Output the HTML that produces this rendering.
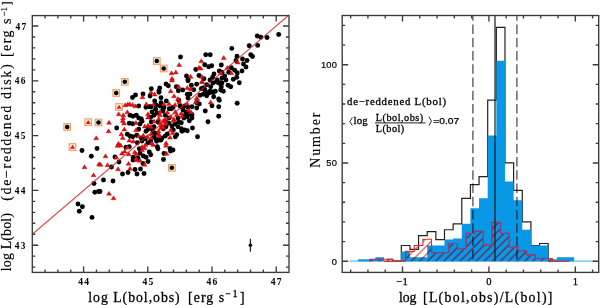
<!DOCTYPE html><html><head><meta charset="utf-8"><style>html,body{margin:0;padding:0;background:#fff;overflow:hidden}svg{display:block;will-change:transform}</style></head><body><svg width="600" height="305" viewBox="0 0 600 305"><rect width="600" height="305" fill="#fff"/><path d="M349.5 261.20H595" stroke="#5cbcf0" stroke-width="1.2"/><path d="M388 261.20 V259.24 H392.7 V261.20 H401.30V245.48 H409.94V249.41 H418.58V235.65 H427.22V231.72 H435.86V239.58 H444.50V229.76 H453.14V223.86 H461.78V198.32 H470.42V184.56 H479.06V176.70 H487.70V100.07 H496.34V27.36 H504.98V162.95 H513.62V190.46 H522.26V221.90 H530.90V245.48 H539.54V243.51 H548.18V261.20" fill="none" stroke="#222" stroke-width="1.2"/><path d="M358.10 261.20L358.10 259.24L366.74 259.24L366.74 259.24L375.38 259.24L375.38 257.27L384.02 257.27L384.02 261.20L392.66 261.20L392.66 261.20L401.30 261.20L401.30 251.38L409.94 251.38L409.94 257.27L418.58 257.27L418.58 257.27L427.22 257.27L427.22 245.48L435.86 245.48L435.86 245.48L444.50 245.48L444.50 239.58L453.14 239.58L453.14 238.60L461.78 238.60L461.78 223.86L470.42 223.86L470.42 208.14L479.06 208.14L479.06 198.32L487.70 198.32L487.70 135.44L496.34 135.44L496.34 60.77L504.98 60.77L504.98 181.62L513.62 181.62L513.62 200.28L522.26 200.28L522.26 229.76L530.90 229.76L530.90 245.48L539.54 245.48L539.54 245.48L548.18 245.48L548.18 259.24L556.82 259.24L556.82 257.27L565.46 257.27L565.46 257.27L574.10 257.27L574.10 261.20Z" fill="#0998e5"/><defs><pattern id="hr" patternUnits="userSpaceOnUse" x="0.3" y="0" width="8.1" height="8.1"><path d="M-1 1L1 -1M0 8.1L8.1 0M7.1 9.1L9.1 7.1" stroke="#d8302c" stroke-width="1.1"/></pattern><pattern id="hb" patternUnits="userSpaceOnUse" x="0.3" y="0" width="8.1" height="8.1"><path d="M-1 1L1 -1M0 8.1L8.1 0M7.1 9.1L9.1 7.1" stroke="#23407f" stroke-width="1.2"/></pattern><clipPath id="cred"><path d="M370 261.20 V259.24 H392.7 V261.20 H405.60V251.38 H414.24V245.48 H422.88V239.19 H431.52V252.55 H440.16V252.55 H448.80V243.51 H457.44V248.62 H466.08V233.30 H474.72V231.33 H483.36V244.89 H492.00V222.29 H500.64V233.30 H509.28V247.05 H517.92V250.59 H526.56V254.91 H535.20V258.45 H543.84V258.45 H552.48V261.20 H569 V261.20 Z"/></clipPath><clipPath id="cblue"><path d="M358.10 261.20L358.10 259.24L366.74 259.24L366.74 259.24L375.38 259.24L375.38 257.27L384.02 257.27L384.02 261.20L392.66 261.20L392.66 261.20L401.30 261.20L401.30 251.38L409.94 251.38L409.94 257.27L418.58 257.27L418.58 257.27L427.22 257.27L427.22 245.48L435.86 245.48L435.86 245.48L444.50 245.48L444.50 239.58L453.14 239.58L453.14 238.60L461.78 238.60L461.78 223.86L470.42 223.86L470.42 208.14L479.06 208.14L479.06 198.32L487.70 198.32L487.70 135.44L496.34 135.44L496.34 60.77L504.98 60.77L504.98 181.62L513.62 181.62L513.62 200.28L522.26 200.28L522.26 229.76L530.90 229.76L530.90 245.48L539.54 245.48L539.54 245.48L548.18 245.48L548.18 259.24L556.82 259.24L556.82 257.27L565.46 257.27L565.46 257.27L574.10 257.27L574.10 261.20Z"/></clipPath></defs><path d="M370 261.20 V259.24 H392.7 V261.20 H405.60V251.38 H414.24V245.48 H422.88V239.19 H431.52V252.55 H440.16V252.55 H448.80V243.51 H457.44V248.62 H466.08V233.30 H474.72V231.33 H483.36V244.89 H492.00V222.29 H500.64V233.30 H509.28V247.05 H517.92V250.59 H526.56V254.91 H535.20V258.45 H543.84V258.45 H552.48V261.20 H569 V261.20 Z" fill="url(#hr)"/><g clip-path="url(#cblue)"><rect x="340" y="150" width="260" height="115" fill="url(#hb)" clip-path="url(#cred)"/></g><path d="M370 261.50 V259.24 H392.7 V261.20 H405.60V251.38 H414.24V245.48 H422.88V239.19 H431.52V252.55 H440.16V252.55 H448.80V243.51 H457.44V248.62 H466.08V233.30 H474.72V231.33 H483.36V244.89 H492.00V222.29 H500.64V233.30 H509.28V247.05 H517.92V250.59 H526.56V254.91 H535.20V258.45 H543.84V258.45 H552.48V261.20" fill="none" stroke="#d8302c" stroke-width="1.1"/><path d="M384 261.40H402M548 261.40H569" fill="none" stroke="#d8302c" stroke-width="1.1"/><g clip-path="url(#cblue)"><path d="M370 261.50 V259.24 H392.7 V261.20 H405.60V251.38 H414.24V245.48 H422.88V239.19 H431.52V252.55 H440.16V252.55 H448.80V243.51 H457.44V248.62 H466.08V233.30 H474.72V231.33 H483.36V244.89 H492.00V222.29 H500.64V233.30 H509.28V247.05 H517.92V250.59 H526.56V254.91 H535.20V258.45 H543.84V258.45 H552.48V261.20" fill="none" stroke="#7a4585" stroke-width="1.2"/></g><path d="M495.0 15.5V261.20" stroke="#1a1a1a" stroke-width="1.2"/><path d="M472.9 15.5V261.20" stroke="#5c5c5c" stroke-width="1.4" stroke-dasharray="9.5 3.75" stroke-dashoffset="4.15" style="mix-blend-mode:multiply"/><path d="M516.9 15.5V261.20" stroke="#5c5c5c" stroke-width="1.4" stroke-dasharray="9.5 3.75" stroke-dashoffset="4.15" style="mix-blend-mode:multiply"/><rect x="153.50" y="57.70" width="6.6" height="6.6" fill="#fdf0e2" stroke="#e9a264" stroke-width="1.15"/><rect x="160.40" y="65.20" width="6.6" height="6.6" fill="#fdf0e2" stroke="#e9a264" stroke-width="1.15"/><rect x="121.50" y="78.50" width="6.6" height="6.6" fill="#fdf0e2" stroke="#e9a264" stroke-width="1.15"/><rect x="112.90" y="89.70" width="6.6" height="6.6" fill="#fdf0e2" stroke="#e9a264" stroke-width="1.15"/><rect x="115.70" y="103.70" width="6.6" height="6.6" fill="#fdf0e2" stroke="#e9a264" stroke-width="1.15"/><rect x="63.90" y="123.70" width="6.6" height="6.6" fill="#fdf0e2" stroke="#e9a264" stroke-width="1.15"/><rect x="84.90" y="118.90" width="6.6" height="6.6" fill="#fdf0e2" stroke="#e9a264" stroke-width="1.15"/><rect x="95.20" y="119.20" width="6.6" height="6.6" fill="#fdf0e2" stroke="#e9a264" stroke-width="1.15"/><rect x="69.20" y="143.70" width="6.6" height="6.6" fill="#fdf0e2" stroke="#e9a264" stroke-width="1.15"/><rect x="168.50" y="164.50" width="6.6" height="6.6" fill="#fdf0e2" stroke="#e9a264" stroke-width="1.15"/><circle cx="156.8" cy="61" r="2.3"/><circle cx="163.7" cy="68.5" r="2.3"/><circle cx="124.8" cy="81.8" r="2.3"/><circle cx="116.2" cy="93" r="2.3"/><path d="M116.50 108.80L121.50 108.80L119.00 104.80Z" fill="#e81010"/><circle cx="67.2" cy="127" r="2.3"/><path d="M85.70 124.00L90.70 124.00L88.20 120.00Z" fill="#e81010"/><circle cx="98.5" cy="122.5" r="2.3"/><path d="M70.00 148.80L75.00 148.80L72.50 144.80Z" fill="#e81010"/><circle cx="171.8" cy="167.8" r="2.3"/><g fill="#000"><circle cx="278.7" cy="34.5" r="2.45"/><circle cx="257.3" cy="36.0" r="2.45"/><circle cx="260.7" cy="37.2" r="2.45"/><circle cx="267.0" cy="37.5" r="2.45"/><circle cx="249.2" cy="45.7" r="2.45"/><circle cx="257.7" cy="45.4" r="2.45"/><circle cx="231.8" cy="48.4" r="2.45"/><circle cx="205.7" cy="54.7" r="2.45"/><circle cx="210.2" cy="54.7" r="2.45"/><circle cx="250.7" cy="54.7" r="2.45"/><circle cx="252.5" cy="56.5" r="2.45"/><circle cx="242.5" cy="59" r="2.45"/><circle cx="247" cy="60.5" r="2.45"/><circle cx="243.5" cy="64" r="2.45"/><circle cx="246" cy="67" r="2.45"/><circle cx="242" cy="71" r="2.45"/><circle cx="180.5" cy="57" r="2.45"/><circle cx="195.8" cy="69.5" r="2.45"/><circle cx="186.5" cy="76" r="2.45"/><circle cx="188" cy="79.5" r="2.45"/><circle cx="199" cy="75.5" r="2.45"/><circle cx="237.2" cy="103.2" r="2.45"/><circle cx="135.5" cy="95" r="2.45"/><circle cx="132.5" cy="97.5" r="2.45"/><circle cx="143" cy="94" r="2.45"/><circle cx="208" cy="121.8" r="2.45"/><circle cx="192.5" cy="128" r="2.45"/><circle cx="197.5" cy="136.8" r="2.45"/><circle cx="161" cy="140" r="2.45"/><circle cx="82" cy="150.5" r="2.45"/><circle cx="91.3" cy="156.3" r="2.45"/><circle cx="97" cy="148.5" r="2.45"/><circle cx="115" cy="157" r="2.45"/><circle cx="119" cy="162" r="2.45"/><circle cx="111.5" cy="167" r="2.45"/><circle cx="133" cy="160" r="2.45"/><circle cx="148" cy="161.5" r="2.45"/><circle cx="143" cy="163.5" r="2.45"/><circle cx="135" cy="169.5" r="2.45"/><circle cx="140.5" cy="169" r="2.45"/><circle cx="128" cy="172.5" r="2.45"/><circle cx="122.5" cy="174" r="2.45"/><circle cx="137" cy="174" r="2.45"/><circle cx="144" cy="173.5" r="2.45"/><circle cx="163.5" cy="159.5" r="2.45"/><circle cx="164" cy="153.5" r="2.45"/><circle cx="170" cy="148.5" r="2.45"/><circle cx="173" cy="150" r="2.45"/><circle cx="170.5" cy="151" r="2.45"/><circle cx="103.5" cy="180" r="2.45"/><circle cx="113" cy="181" r="2.45"/><circle cx="100" cy="191.5" r="2.45"/><circle cx="94" cy="183.5" r="2.45"/><circle cx="94.8" cy="192.2" r="2.45"/><circle cx="98.5" cy="191.5" r="2.45"/><circle cx="78" cy="204" r="2.45"/><circle cx="82.4" cy="206.7" r="2.45"/><circle cx="79.3" cy="211.3" r="2.45"/><circle cx="92" cy="217.4" r="2.45"/><circle cx="191.3" cy="85.3" r="2.45"/><circle cx="193.7" cy="89.7" r="2.45"/><circle cx="196.7" cy="84.3" r="2.45"/><circle cx="210" cy="91.3" r="2.45"/><circle cx="207.3" cy="92.7" r="2.45"/><circle cx="203.3" cy="94.3" r="2.45"/><circle cx="200" cy="95.3" r="2.45"/><circle cx="206.7" cy="95.7" r="2.45"/><circle cx="212.7" cy="92" r="2.45"/><circle cx="215.3" cy="91.3" r="2.45"/><circle cx="213.7" cy="96.7" r="2.45"/><circle cx="218.7" cy="99" r="2.45"/><circle cx="220.7" cy="90" r="2.45"/><circle cx="223.3" cy="91.3" r="2.45"/><circle cx="190" cy="94" r="2.45"/><circle cx="166" cy="84" r="2.45"/><circle cx="168.3" cy="85.7" r="2.45"/><circle cx="159.7" cy="88" r="2.45"/><circle cx="159" cy="90.7" r="2.45"/><circle cx="159" cy="92.3" r="2.45"/><circle cx="151.3" cy="88.7" r="2.45"/><circle cx="161" cy="97.7" r="2.45"/><circle cx="176.3" cy="86.7" r="2.45"/><circle cx="178.3" cy="90.7" r="2.45"/><circle cx="182.7" cy="90" r="2.45"/><circle cx="188" cy="80.7" r="2.45"/><circle cx="187.3" cy="94.3" r="2.45"/><circle cx="150" cy="96" r="2.45"/><circle cx="188" cy="98" r="2.45"/><circle cx="154.7" cy="101" r="2.45"/><circle cx="161" cy="102.7" r="2.45"/><circle cx="166.3" cy="101" r="2.45"/><circle cx="155.7" cy="109.3" r="2.45"/><circle cx="154" cy="115.3" r="2.45"/><circle cx="151.3" cy="106.7" r="2.45"/><circle cx="163" cy="109.3" r="2.45"/><circle cx="169.3" cy="108.7" r="2.45"/><circle cx="171.3" cy="108.7" r="2.45"/><circle cx="182" cy="107.3" r="2.45"/><circle cx="184.7" cy="106" r="2.45"/><circle cx="188" cy="107.3" r="2.45"/><circle cx="185.3" cy="115.3" r="2.45"/><circle cx="187.3" cy="116.7" r="2.45"/><circle cx="165.3" cy="115.3" r="2.45"/><circle cx="178.7" cy="100.3" r="2.45"/><circle cx="150.7" cy="117.3" r="2.45"/><circle cx="219.3" cy="100.3" r="2.45"/><circle cx="212" cy="105.7" r="2.45"/><circle cx="218.7" cy="106.7" r="2.45"/><circle cx="205.3" cy="111" r="2.45"/><circle cx="218.7" cy="116.3" r="2.45"/><circle cx="196.7" cy="102.7" r="2.45"/><circle cx="199.3" cy="104" r="2.45"/><circle cx="196.7" cy="108" r="2.45"/><circle cx="192" cy="106.7" r="2.45"/><circle cx="192" cy="114.7" r="2.45"/><circle cx="192" cy="118" r="2.45"/><circle cx="138.7" cy="106" r="2.45"/><circle cx="146" cy="107.3" r="2.45"/><circle cx="149.3" cy="106.7" r="2.45"/><circle cx="130" cy="115.3" r="2.45"/><circle cx="133" cy="116.3" r="2.45"/><circle cx="136.3" cy="115.3" r="2.45"/><circle cx="138.7" cy="118" r="2.45"/><circle cx="141.3" cy="119" r="2.45"/><circle cx="116.7" cy="128" r="2.45"/><circle cx="129.3" cy="123.3" r="2.45"/><circle cx="132.7" cy="123.7" r="2.45"/><circle cx="140" cy="124" r="2.45"/><circle cx="142" cy="121.3" r="2.45"/><circle cx="138.7" cy="129.3" r="2.45"/><circle cx="127.3" cy="134.3" r="2.45"/><circle cx="130" cy="136" r="2.45"/><circle cx="132.7" cy="136.7" r="2.45"/><circle cx="136.7" cy="135.3" r="2.45"/><circle cx="146" cy="131.3" r="2.45"/><circle cx="148" cy="129.3" r="2.45"/><circle cx="141.3" cy="138" r="2.45"/><circle cx="145.3" cy="138.7" r="2.45"/><circle cx="178.7" cy="122" r="2.45"/><circle cx="181.3" cy="122.7" r="2.45"/><circle cx="175.3" cy="124" r="2.45"/><circle cx="178" cy="126.7" r="2.45"/><circle cx="181.3" cy="128.7" r="2.45"/><circle cx="184.7" cy="130" r="2.45"/><circle cx="187.3" cy="130.7" r="2.45"/><circle cx="182" cy="131.3" r="2.45"/><circle cx="176.7" cy="134.7" r="2.45"/><circle cx="175.3" cy="136.7" r="2.45"/><circle cx="167.3" cy="134" r="2.45"/><circle cx="165.3" cy="136" r="2.45"/><circle cx="154" cy="126.7" r="2.45"/><circle cx="152.7" cy="130" r="2.45"/><circle cx="155.3" cy="133.3" r="2.45"/><circle cx="154" cy="137.3" r="2.45"/><circle cx="163.3" cy="128.7" r="2.45"/><circle cx="166" cy="126.7" r="2.45"/><circle cx="168.7" cy="123.3" r="2.45"/><circle cx="172" cy="126" r="2.45"/><circle cx="173.3" cy="130" r="2.45"/><circle cx="158" cy="122" r="2.45"/><circle cx="165.3" cy="121.3" r="2.45"/><circle cx="151.3" cy="122" r="2.45"/><circle cx="189.3" cy="120.7" r="2.45"/><circle cx="162" cy="138" r="2.45"/><circle cx="126" cy="147.3" r="2.45"/><circle cx="129.3" cy="146.7" r="2.45"/><circle cx="137.3" cy="142.7" r="2.45"/><circle cx="142" cy="141" r="2.45"/><circle cx="148" cy="142.7" r="2.45"/><circle cx="150.7" cy="141" r="2.45"/><circle cx="157.3" cy="146.7" r="2.45"/><circle cx="158" cy="148.7" r="2.45"/><circle cx="149.3" cy="152" r="2.45"/><circle cx="150.7" cy="154.7" r="2.45"/><circle cx="140" cy="153.3" r="2.45"/><circle cx="143.3" cy="156" r="2.45"/><circle cx="146" cy="157.3" r="2.45"/><circle cx="138" cy="158" r="2.45"/><circle cx="133.3" cy="157.3" r="2.45"/><circle cx="139.3" cy="148.7" r="2.45"/><circle cx="156.7" cy="141.3" r="2.45"/><circle cx="204.7" cy="64.7" r="2.45"/><circle cx="208.7" cy="66.7" r="2.45"/><circle cx="211.7" cy="65.7" r="2.45"/><circle cx="221.3" cy="65" r="2.45"/><circle cx="237" cy="56.3" r="2.45"/><circle cx="219.3" cy="71" r="2.45"/><circle cx="222" cy="72.3" r="2.45"/><circle cx="214" cy="74" r="2.45"/><circle cx="231.3" cy="67.7" r="2.45"/><circle cx="234.7" cy="70.3" r="2.45"/><circle cx="228.7" cy="72.3" r="2.45"/><circle cx="237.3" cy="73" r="2.45"/><circle cx="212.7" cy="77.3" r="2.45"/><circle cx="222" cy="78" r="2.45"/><circle cx="224.7" cy="76" r="2.45"/><circle cx="236.7" cy="77.3" r="2.45"/><circle cx="204" cy="78.7" r="2.45"/><circle cx="233.3" cy="79.3" r="2.45"/><circle cx="217.3" cy="80" r="2.45"/><circle cx="216.7" cy="82" r="2.45"/><circle cx="220.7" cy="82.7" r="2.45"/><circle cx="221.3" cy="86.7" r="2.45"/><circle cx="228" cy="85.3" r="2.45"/><circle cx="230.7" cy="86.7" r="2.45"/><circle cx="239.3" cy="82.7" r="2.45"/><circle cx="206.7" cy="84.7" r="2.45"/><circle cx="210.7" cy="86.7" r="2.45"/><circle cx="204" cy="88" r="2.45"/><circle cx="201.3" cy="88.7" r="2.45"/><circle cx="216.7" cy="81.3" r="2.45"/><circle cx="222" cy="83" r="2.45"/><circle cx="219.3" cy="83.3" r="2.45"/><circle cx="163" cy="111" r="2.45"/><circle cx="164" cy="107" r="2.45"/><circle cx="173" cy="107.5" r="2.45"/><circle cx="180" cy="106" r="2.45"/><circle cx="183" cy="110" r="2.45"/><circle cx="186" cy="112" r="2.45"/><circle cx="189" cy="114" r="2.45"/><circle cx="184" cy="118" r="2.45"/><circle cx="178" cy="118" r="2.45"/><circle cx="157" cy="113" r="2.45"/><circle cx="152" cy="112" r="2.45"/><circle cx="169" cy="118" r="2.45"/><circle cx="156" cy="105" r="2.45"/><circle cx="160" cy="106" r="2.45"/><circle cx="151" cy="128" r="2.45"/><circle cx="153" cy="133" r="2.45"/><circle cx="156" cy="139" r="2.45"/><circle cx="160" cy="140" r="2.45"/><circle cx="210" cy="80" r="2.45"/><circle cx="213" cy="83" r="2.45"/><circle cx="226" cy="80" r="2.45"/><circle cx="236" cy="60.5" r="2.45"/><circle cx="205" cy="90" r="2.45"/><circle cx="209" cy="93" r="2.45"/><circle cx="203" cy="88" r="2.45"/><circle cx="213" cy="92.5" r="2.45"/></g><g fill="#e81010" stroke="#a00000" stroke-width="0.35"><path d="M176.70 66.60L181.70 66.60L179.20 62.60Z"/><path d="M196.50 69.30L201.50 69.30L199.00 65.30Z"/><path d="M169.00 74.80L174.00 74.80L171.50 70.80Z"/><path d="M173.30 74.00L178.30 74.00L175.80 70.00Z"/><path d="M188.00 78.30L193.00 78.30L190.50 74.30Z"/><path d="M169.50 80.30L174.50 80.30L172.00 76.30Z"/><path d="M140.00 98.80L145.00 98.80L142.50 94.80Z"/><path d="M163.50 144.80L168.50 144.80L166.00 140.80Z"/><path d="M106.50 124.30L111.50 124.30L109.00 120.30Z"/><path d="M106.00 132.80L111.00 132.80L108.50 128.80Z"/><path d="M116.00 145.30L121.00 145.30L118.50 141.30Z"/><path d="M93.70 139.80L98.70 139.80L96.20 135.80Z"/><path d="M82.00 168.80L87.00 168.80L84.50 164.80Z"/><path d="M96.50 165.80L101.50 165.80L99.00 161.80Z"/><path d="M103.00 157.80L108.00 157.80L105.50 153.80Z"/><path d="M105.00 166.80L110.00 166.80L107.50 162.80Z"/><path d="M98.00 166.30L103.00 166.30L100.50 162.30Z"/><path d="M115.50 170.80L120.50 170.80L118.00 166.80Z"/><path d="M115.00 147.30L120.00 147.30L117.50 143.30Z"/><path d="M134.00 161.80L139.00 161.80L136.50 157.80Z"/><path d="M137.50 162.30L142.50 162.30L140.00 158.30Z"/><path d="M126.00 165.30L131.00 165.30L128.50 161.30Z"/><path d="M127.50 170.30L132.50 170.30L130.00 166.30Z"/><path d="M142.00 166.30L147.00 166.30L144.50 162.30Z"/><path d="M164.00 155.30L169.00 155.30L166.50 151.30Z"/><path d="M163.50 147.30L168.50 147.30L166.00 143.30Z"/><path d="M106.50 195.30L111.50 195.30L109.00 191.30Z"/><path d="M111.00 199.80L116.00 199.80L113.50 195.80Z"/><path d="M91.00 176.80L96.00 176.80L93.50 172.80Z"/><path d="M194.20 99.80L199.20 99.80L196.70 95.80Z"/><path d="M188.20 90.50L193.20 90.50L190.70 86.50Z"/><path d="M169.50 82.10L174.50 82.10L172.00 78.10Z"/><path d="M168.20 92.80L173.20 92.80L170.70 88.80Z"/><path d="M171.50 97.80L176.50 97.80L174.00 93.80Z"/><path d="M176.20 88.50L181.20 88.50L178.70 84.50Z"/><path d="M184.80 89.50L189.80 89.50L187.30 85.50Z"/><path d="M152.20 96.10L157.20 96.10L154.70 92.10Z"/><path d="M148.50 94.10L153.50 94.10L151.00 90.10Z"/><path d="M175.50 100.50L180.50 100.50L178.00 96.50Z"/><path d="M151.20 106.10L156.20 106.10L153.70 102.10Z"/><path d="M161.50 106.10L166.50 106.10L164.00 102.10Z"/><path d="M166.50 105.50L171.50 105.50L169.00 101.50Z"/><path d="M172.50 106.50L177.50 106.50L175.00 102.50Z"/><path d="M176.80 103.80L181.80 103.80L179.30 99.80Z"/><path d="M184.50 105.50L189.50 105.50L187.00 101.50Z"/><path d="M157.50 113.50L162.50 113.50L160.00 109.50Z"/><path d="M157.50 116.80L162.50 116.80L160.00 112.80Z"/><path d="M164.80 114.10L169.80 114.10L167.30 110.10Z"/><path d="M168.20 118.50L173.20 118.50L170.70 114.50Z"/><path d="M172.80 113.50L177.80 113.50L175.30 109.50Z"/><path d="M174.20 116.50L179.20 116.50L176.70 112.50Z"/><path d="M178.80 115.10L183.80 115.10L181.30 111.10Z"/><path d="M179.50 117.80L184.50 117.80L182.00 113.80Z"/><path d="M186.20 111.80L191.20 111.80L188.70 107.80Z"/><path d="M162.80 120.80L167.80 120.80L165.30 116.80Z"/><path d="M156.20 120.50L161.20 120.50L158.70 116.50Z"/><path d="M171.50 121.10L176.50 121.10L174.00 117.10Z"/><path d="M193.20 103.80L198.20 103.80L195.70 99.80Z"/><path d="M208.20 104.10L213.20 104.10L210.70 100.10Z"/><path d="M188.50 113.80L193.50 113.80L191.00 109.80Z"/><path d="M122.80 106.80L127.80 106.80L125.30 102.80Z"/><path d="M125.20 106.10L130.20 106.10L127.70 102.10Z"/><path d="M127.20 105.80L132.20 105.80L129.70 101.80Z"/><path d="M130.20 106.50L135.20 106.50L132.70 102.50Z"/><path d="M132.80 107.80L137.80 107.80L135.30 103.80Z"/><path d="M143.80 105.80L148.80 105.80L146.30 101.80Z"/><path d="M116.20 115.80L121.20 115.80L118.70 111.80Z"/><path d="M120.80 116.80L125.80 116.80L123.30 112.80Z"/><path d="M124.80 113.80L129.80 113.80L127.30 109.80Z"/><path d="M120.50 119.80L125.50 119.80L123.00 115.80Z"/><path d="M145.50 115.80L150.50 115.80L148.00 111.80Z"/><path d="M145.50 119.10L150.50 119.10L148.00 115.10Z"/><path d="M121.80 131.10L126.80 131.10L124.30 127.10Z"/><path d="M121.50 125.10L126.50 125.10L124.00 121.10Z"/><path d="M120.20 122.50L125.20 122.50L122.70 118.50Z"/><path d="M118.80 135.80L123.80 135.80L121.30 131.80Z"/><path d="M120.20 139.50L125.20 139.50L122.70 135.50Z"/><path d="M133.50 131.80L138.50 131.80L136.00 127.80Z"/><path d="M133.50 124.50L138.50 124.50L136.00 120.50Z"/><path d="M142.20 128.10L147.20 128.10L144.70 124.10Z"/><path d="M145.50 127.10L150.50 127.10L148.00 123.10Z"/><path d="M136.20 137.80L141.20 137.80L138.70 133.80Z"/><path d="M140.80 137.10L145.80 137.10L143.30 133.10Z"/><path d="M144.80 138.50L149.80 138.50L147.30 134.50Z"/><path d="M151.50 123.10L156.50 123.10L154.00 119.10Z"/><path d="M158.80 127.10L163.80 127.10L161.30 123.10Z"/><path d="M158.20 129.80L163.20 129.80L160.70 125.80Z"/><path d="M162.80 125.80L167.80 125.80L165.30 121.80Z"/><path d="M160.80 122.50L165.80 122.50L163.30 118.50Z"/><path d="M170.80 122.50L175.80 122.50L173.30 118.50Z"/><path d="M168.20 131.80L173.20 131.80L170.70 127.80Z"/><path d="M170.20 134.50L175.20 134.50L172.70 130.50Z"/><path d="M156.20 135.80L161.20 135.80L158.70 131.80Z"/><path d="M156.80 137.80L161.80 137.80L159.30 133.80Z"/><path d="M148.80 135.80L153.80 135.80L151.30 131.80Z"/><path d="M148.20 128.50L153.20 128.50L150.70 124.50Z"/><path d="M167.50 139.10L172.50 139.10L170.00 135.10Z"/><path d="M148.80 139.80L153.80 139.80L151.30 135.80Z"/><path d="M126.80 142.10L131.80 142.10L129.30 138.10Z"/><path d="M130.80 143.10L135.80 143.10L133.30 139.10Z"/><path d="M148.80 145.10L153.80 145.10L151.30 141.10Z"/><path d="M150.80 146.50L155.80 146.50L153.30 142.50Z"/><path d="M139.50 148.50L144.50 148.50L142.00 144.50Z"/><path d="M142.20 149.80L147.20 149.80L144.70 145.80Z"/><path d="M139.50 151.80L144.50 151.80L142.00 147.80Z"/><path d="M132.20 153.80L137.20 153.80L134.70 149.80Z"/><path d="M133.50 155.80L138.50 155.80L136.00 151.80Z"/><path d="M124.80 149.10L129.80 149.10L127.30 145.10Z"/><path d="M122.20 153.10L127.20 153.10L124.70 149.10Z"/><path d="M119.50 155.10L124.50 155.10L122.00 151.10Z"/><path d="M126.20 155.80L131.20 155.80L128.70 151.80Z"/><path d="M118.20 147.10L123.20 147.10L120.70 143.10Z"/><path d="M133.50 160.50L138.50 160.50L136.00 156.50Z"/><path d="M142.80 146.50L147.80 146.50L145.30 142.50Z"/><path d="M221.20 59.50L226.20 59.50L223.70 55.50Z"/><path d="M198.80 62.80L203.80 62.80L201.30 58.80Z"/><path d="M224.80 69.50L229.80 69.50L227.30 65.50Z"/><path d="M235.20 64.10L240.20 64.10L237.70 60.10Z"/><path d="M228.80 74.80L233.80 74.80L231.30 70.80Z"/><path d="M218.20 74.80L223.20 74.80L220.70 70.80Z"/><path d="M198.20 70.10L203.20 70.10L200.70 66.10Z"/><path d="M199.50 78.50L204.50 78.50L202.00 74.50Z"/><path d="M199.50 83.10L204.50 83.10L202.00 79.10Z"/><path d="M199.50 83.80L204.50 83.80L202.00 79.80Z"/><path d="M157.50 124.80L162.50 124.80L160.00 120.80Z"/><path d="M160.50 128.80L165.50 128.80L163.00 124.80Z"/><path d="M163.50 124.30L168.50 124.30L166.00 120.30Z"/><path d="M156.00 132.80L161.00 132.80L158.50 128.80Z"/><path d="M113.80 159.10L118.80 159.10L116.30 155.10Z"/><path d="M194.80 100.80L199.80 100.80L197.30 96.80Z"/></g><path d="M32.3 234.24L289.0 15.04" stroke="#cf1f1f" stroke-width="1.1" stroke-opacity="0.8"/><path d="M250.4 238.7V251.8" stroke="#222" stroke-width="1.2"/><circle cx="250.4" cy="245.2" r="1.8" fill="#000"/><rect x="32.3" y="15.6" width="256.70" height="256.80" fill="none" stroke="#3a3a3a" stroke-width="1.35"/><path d="M83.60 272.4v-6M83.60 15.6v6M147.80 272.4v-6M147.80 15.6v6M212.00 272.4v-6M212.00 15.6v6M276.20 272.4v-6M276.20 15.6v6M45.08 272.4v-3M45.08 15.6v3M57.92 272.4v-3M57.92 15.6v3M70.76 272.4v-3M70.76 15.6v3M96.44 272.4v-3M96.44 15.6v3M109.28 272.4v-3M109.28 15.6v3M122.12 272.4v-3M122.12 15.6v3M134.96 272.4v-3M134.96 15.6v3M160.64 272.4v-3M160.64 15.6v3M173.48 272.4v-3M173.48 15.6v3M186.32 272.4v-3M186.32 15.6v3M199.16 272.4v-3M199.16 15.6v3M224.84 272.4v-3M224.84 15.6v3M237.68 272.4v-3M237.68 15.6v3M250.52 272.4v-3M250.52 15.6v3M263.36 272.4v-3M263.36 15.6v3" stroke="#3a3a3a" stroke-width="1.35" fill="none"/><path d="M32.3 245.20h6M289.0 245.20h-6M32.3 190.40h6M289.0 190.40h-6M32.3 135.60h6M289.0 135.60h-6M32.3 80.80h6M289.0 80.80h-6M32.3 26.00h6M289.0 26.00h-6M32.3 267.12h3M289.0 267.12h-3M32.3 256.16h3M289.0 256.16h-3M32.3 234.24h3M289.0 234.24h-3M32.3 223.28h3M289.0 223.28h-3M32.3 212.32h3M289.0 212.32h-3M32.3 201.36h3M289.0 201.36h-3M32.3 179.44h3M289.0 179.44h-3M32.3 168.48h3M289.0 168.48h-3M32.3 157.52h3M289.0 157.52h-3M32.3 146.56h3M289.0 146.56h-3M32.3 124.64h3M289.0 124.64h-3M32.3 113.68h3M289.0 113.68h-3M32.3 102.72h3M289.0 102.72h-3M32.3 91.76h3M289.0 91.76h-3M32.3 69.84h3M289.0 69.84h-3M32.3 58.88h3M289.0 58.88h-3M32.3 47.92h3M289.0 47.92h-3M32.3 36.96h3M289.0 36.96h-3" stroke="#3a3a3a" stroke-width="1.35" fill="none"/><rect x="342.2" y="15.5" width="256.50" height="256.90" fill="none" stroke="#3a3a3a" stroke-width="1.35"/><path d="M402.50 272.4v-6M402.50 15.5v6M488.90 272.4v-6M488.90 15.5v6M575.30 272.4v-6M575.30 15.5v6M350.66 272.4v-3M350.66 15.5v3M367.94 272.4v-3M367.94 15.5v3M385.22 272.4v-3M385.22 15.5v3M419.78 272.4v-3M419.78 15.5v3M437.06 272.4v-3M437.06 15.5v3M454.34 272.4v-3M454.34 15.5v3M471.62 272.4v-3M471.62 15.5v3M506.18 272.4v-3M506.18 15.5v3M523.46 272.4v-3M523.46 15.5v3M540.74 272.4v-3M540.74 15.5v3M558.02 272.4v-3M558.02 15.5v3M592.58 272.4v-3M592.58 15.5v3" stroke="#3a3a3a" stroke-width="1.35" fill="none"/><path d="M342.2 261.20h6M598.7 261.20h-6M342.2 162.95h6M598.7 162.95h-6M342.2 64.70h6M598.7 64.70h-6M342.2 241.55h3M598.7 241.55h-3M342.2 221.90h3M598.7 221.90h-3M342.2 202.25h3M598.7 202.25h-3M342.2 182.60h3M598.7 182.60h-3M342.2 143.30h3M598.7 143.30h-3M342.2 123.65h3M598.7 123.65h-3M342.2 104.00h3M598.7 104.00h-3M342.2 84.35h3M598.7 84.35h-3M342.2 45.05h3M598.7 45.05h-3M342.2 25.40h3M598.7 25.40h-3" stroke="#3a3a3a" stroke-width="1.35" fill="none"/><text x="26.7" y="248.8" font-family="'Liberation Serif', serif" font-size="9.4" font-weight="bold" letter-spacing="1.3" text-anchor="end">43</text><text x="26.7" y="194.0" font-family="'Liberation Serif', serif" font-size="9.4" font-weight="bold" letter-spacing="1.3" text-anchor="end">44</text><text x="26.7" y="139.2" font-family="'Liberation Serif', serif" font-size="9.4" font-weight="bold" letter-spacing="1.3" text-anchor="end">45</text><text x="26.7" y="84.4" font-family="'Liberation Serif', serif" font-size="9.4" font-weight="bold" letter-spacing="1.3" text-anchor="end">46</text><text x="27.6" y="29.6" font-family="'Liberation Serif', serif" font-size="9.4" font-weight="bold" letter-spacing="1.3" text-anchor="end">47</text><text x="84.2" y="285.0" font-family="'Liberation Serif', serif" font-size="9.6" font-weight="bold" letter-spacing="1.2" text-anchor="middle">44</text><text x="148.4" y="285.0" font-family="'Liberation Serif', serif" font-size="9.6" font-weight="bold" letter-spacing="1.2" text-anchor="middle">45</text><text x="212.6" y="285.0" font-family="'Liberation Serif', serif" font-size="9.6" font-weight="bold" letter-spacing="1.2" text-anchor="middle">46</text><text x="276.8" y="285.0" font-family="'Liberation Serif', serif" font-size="9.6" font-weight="bold" letter-spacing="1.2" text-anchor="middle">47</text><text x="337.1" y="264.5" font-family="'Liberation Sans', sans-serif" font-size="9.3" letter-spacing="0.2" stroke="#000" stroke-width="0.2" text-anchor="end">0</text><text x="337.1" y="166.2" font-family="'Liberation Sans', sans-serif" font-size="9.3" letter-spacing="0.2" stroke="#000" stroke-width="0.2" text-anchor="end">50</text><text x="337.1" y="68.0" font-family="'Liberation Sans', sans-serif" font-size="9.3" letter-spacing="0.2" stroke="#000" stroke-width="0.2" text-anchor="end">100</text><text x="402.2" y="284.7" font-family="'Liberation Serif', serif" font-size="10.6" stroke="#000" stroke-width="0.25" text-anchor="middle">−1</text><text x="488.9" y="284.7" font-family="'Liberation Serif', serif" font-size="10.6" stroke="#000" stroke-width="0.25" text-anchor="middle">0</text><text x="575.3" y="284.7" font-family="'Liberation Serif', serif" font-size="10.6" stroke="#000" stroke-width="0.25" text-anchor="middle">1</text><text x="88.3" y="301.8" font-family="'Liberation Serif', serif" font-size="13.8" textLength="91.4" lengthAdjust="spacing" stroke="#000" stroke-width="0.28">log L(bol,obs)</text><text x="188" y="301.8" font-family="'Liberation Serif', serif" font-size="13.8" textLength="36.2" lengthAdjust="spacing" stroke="#000" stroke-width="0.28">[erg s</text><text x="225.3" y="296.6" font-family="'Liberation Serif', serif" font-size="9.5" textLength="12.2" lengthAdjust="spacing" stroke="#000" stroke-width="0.28">−1</text><text x="240" y="301.8" font-family="'Liberation Serif', serif" font-size="13.8" textLength="4.7" lengthAdjust="spacing" stroke="#000" stroke-width="0.28">]</text><text x="399" y="301.8" font-family="'Liberation Serif', serif" font-size="13.8" textLength="17.3" lengthAdjust="spacing" stroke="#000" stroke-width="0.28">log</text><text x="423" y="301.8" font-family="'Liberation Serif', serif" font-size="13.8" textLength="129.4" lengthAdjust="spacing" stroke="#000" stroke-width="0.28">[L(bol,obs)/L(bol)]</text><text transform="translate(10.6,271.2) rotate(-90)" x="0" y="0" font-family="'Liberation Serif', serif" font-size="14" stroke="#000" stroke-width="0.18" textLength="58.2" lengthAdjust="spacing">log L(bol)</text><text transform="translate(10.6,200.7) rotate(-90)" x="0" y="0" font-family="'Liberation Serif', serif" font-size="14" stroke="#000" stroke-width="0.18" textLength="136.3" lengthAdjust="spacing">(de−reddened disk)</text><text transform="translate(10.6,57.1) rotate(-90)" x="0" y="0" font-family="'Liberation Serif', serif" font-size="14" stroke="#000" stroke-width="0.18" textLength="38.6" lengthAdjust="spacing">[erg s</text><text transform="translate(6.8,16.5) rotate(-90)" x="0" y="0" font-family="'Liberation Serif', serif" font-size="9" stroke="#000" stroke-width="0.18" textLength="9.5" lengthAdjust="spacing">−1</text><text transform="translate(10.6,5.5) rotate(-90)" x="0" y="0" font-family="'Liberation Serif', serif" font-size="13" stroke="#000" stroke-width="0.18" textLength="4.2" lengthAdjust="spacing">]</text><text transform="translate(319.7,167.7) rotate(-90)" x="0" y="0" font-family="'Liberation Serif', serif" font-size="14" stroke="#000" stroke-width="0.15" textLength="55.1" lengthAdjust="spacing">Number</text><text x="347" y="105" font-family="'Liberation Serif', serif" font-size="10.8" textLength="99" lengthAdjust="spacing" stroke="#000" stroke-width="0.3">de−reddened L(bol)</text><path d="M352.3 117.6L349.8 121.6L352.3 125.6" fill="none" stroke="#111" stroke-width="0.9"/><text x="353.6" y="123.7" font-family="'Liberation Serif', serif" font-size="10.8" textLength="14" lengthAdjust="spacing" stroke="#000" stroke-width="0.3">log</text><text x="375.7" y="120.8" font-family="'Liberation Serif', serif" font-size="10.2" textLength="47.5" lengthAdjust="spacing" stroke="#000" stroke-width="0.3">L(bol,obs)</text><path d="M375 122.9H425.5" stroke="#222" stroke-width="1"/><text x="375.7" y="132.1" font-family="'Liberation Serif', serif" font-size="10.2" textLength="28.5" lengthAdjust="spacing" stroke="#000" stroke-width="0.3">L(bol)</text><path d="M429 116.6L431.4 121.1L429 125.6" fill="none" stroke="#111" stroke-width="0.9"/><text x="433.3" y="123.8" font-family="'Liberation Sans', sans-serif" font-size="8.8" stroke="#000" stroke-width="0.25" textLength="26" lengthAdjust="spacingAndGlyphs">=0.07</text></svg></body></html>
